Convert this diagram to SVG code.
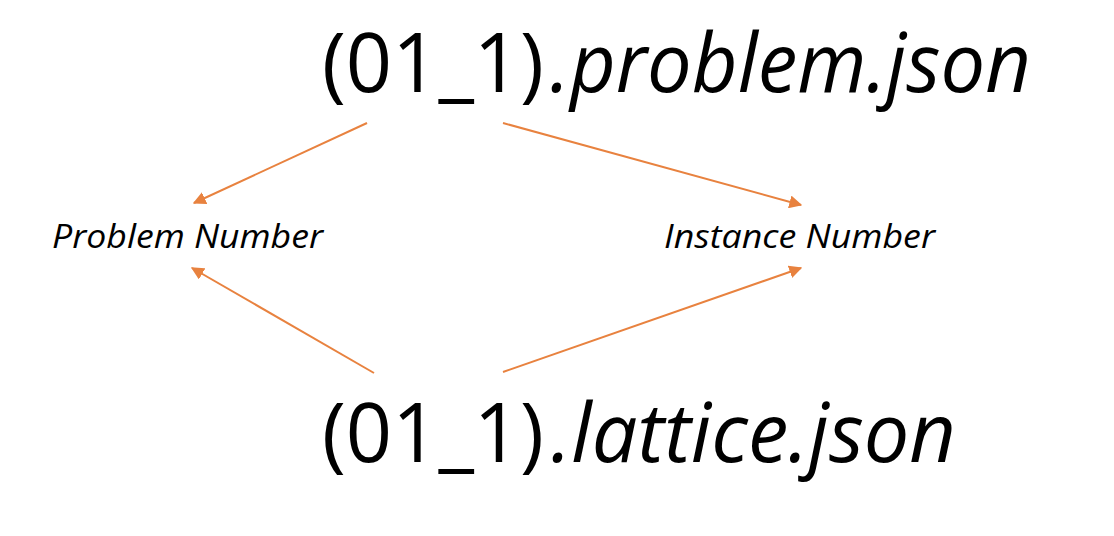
<svg xmlns="http://www.w3.org/2000/svg" width="1114" height="536" viewBox="0 0 1114 536">
<style>
.big{font-family:"Open Sans","Liberation Sans",sans-serif;font-size:82px;fill:#000}
.lbl{font-family:"Open Sans","Liberation Sans",sans-serif;font-size:32px;font-style:italic;fill:#000}
.it{font-style:italic}
.conn{stroke:#E8823F;stroke-width:2;fill:none;marker-end:url(#ah)}
</style>
<defs>
<marker id="ah" viewBox="0 0 10 10" refX="9" refY="5" markerWidth="6.5" markerHeight="6.5" markerUnits="strokeWidth" orient="auto">
<path d="M0,0 L10,5 L0,10 z" fill="#E8823F"/>
</marker>
</defs>
<rect width="1114" height="536" fill="#fff"/>
<g id="problem-json">
<text class="big" x="322" y="92" textLength="222" lengthAdjust="spacingAndGlyphs">(01_1)</text>
<text class="big it" x="550" y="92" textLength="481" lengthAdjust="spacingAndGlyphs">.problem.json</text>
</g>
<g id="lattice-json">
<text class="big" x="322" y="462" textLength="222" lengthAdjust="spacingAndGlyphs">(01_1)</text>
<text class="big it" x="551" y="462" textLength="405" lengthAdjust="spacingAndGlyphs">.lattice.json</text>
</g>
<g id="problem-number"><text class="lbl" x="52" y="248" textLength="271" lengthAdjust="spacingAndGlyphs">Problem Number</text></g>
<g id="instance-number"><text class="lbl" x="664" y="248" textLength="271" lengthAdjust="spacingAndGlyphs">Instance Number</text></g>
<g id="connectors">
<line class="conn" x1="367" y1="123" x2="194" y2="203"/>
<line class="conn" x1="503" y1="123" x2="801" y2="205"/>
<line class="conn" x1="374" y1="373" x2="192" y2="268"/>
<line class="conn" x1="503" y1="372" x2="801" y2="268"/>
</g>
</svg>
